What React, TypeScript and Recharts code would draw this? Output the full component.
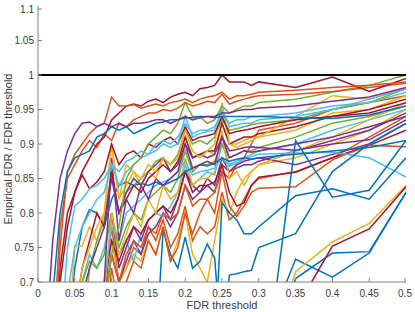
import React from 'react';
import { LineChart, Line, XAxis, YAxis, ReferenceLine } from 'recharts';

// FDR thresholds used for every curve
const thresholds = [
  0.01, 0.02, 0.03, 0.04, 0.05, 0.06, 0.07, 0.08, 0.09, 0.1,
  0.11, 0.12, 0.13, 0.14, 0.15, 0.16, 0.17, 0.18, 0.19, 0.2,
  0.21, 0.22, 0.23, 0.24, 0.25, 0.26, 0.27, 0.28, 0.29, 0.3,
  0.35, 0.4, 0.45, 0.5,
];

const xTicks = [0, 0.05, 0.1, 0.15, 0.2, 0.25, 0.3, 0.35, 0.4, 0.45, 0.5];
const yTicks = [0.7, 0.75, 0.8, 0.85, 0.9, 0.95, 1, 1.05, 1.1];

// empirical FDR / threshold, one array per run (values below 0.7 fall off the plot)
const purpleA = [
  0.6, 0.76, 0.85, 0.89, 0.915, 0.93, 0.932, 0.925, 0.93, 0.925,
  0.93, 0.925, 0.93, 0.93, 0.932, 0.935, 0.935, 0.93, 0.935, 0.94,
  0.935, 0.938, 0.94, 0.94, 0.945, 0.945, 0.948, 0.95, 0.95, 0.952,
  0.955, 0.962, 0.968, 0.982,
];
const blueA = [
  0.5, 0.68, 0.8, 0.86, 0.88, 0.885, 0.89, 0.91, 0.915, 0.925,
  0.92, 0.925, 0.915, 0.92, 0.925, 0.93, 0.932, 0.935, 0.935, 0.938,
  0.938, 0.94, 0.94, 0.938, 0.94, 0.94, 0.94, 0.94, 0.94, 0.94,
  0.938, 0.937, 0.942, 0.955,
];
const orangeA = [
  0.45, 0.55, 0.75, 0.86, 0.885, 0.9, 0.915, 0.925, 0.93, 0.968,
  0.955, 0.955, 0.957, 0.952, 0.955, 0.958, 0.955, 0.96, 0.962, 0.965,
  0.96, 0.965, 0.968, 0.97, 0.975, 0.965, 0.97, 0.97, 0.972, 0.975,
  0.978, 0.982, 0.985, 0.99,
];
const orangeB = [
  0.5, 0.6, 0.78, 0.85, 0.87, 0.89, 0.905, 0.895, 0.915, 0.905,
  0.93, 0.925, 0.935, 0.94, 0.945, 0.945, 0.95, 0.948, 0.952, 0.96,
  0.955, 0.958, 0.962, 0.96, 0.972, 0.958, 0.962, 0.965, 0.968, 0.97,
  0.972, 0.976, 0.982, 0.988,
];
const darkRedA = [
  0.45, 0.5, 0.7, 0.78, 0.83, 0.86, 0.88, 0.9, 0.91, 0.935,
  0.945, 0.955, 0.958, 0.955, 0.962, 0.965, 0.96, 0.968, 0.972, 0.975,
  0.97, 0.98, 0.982, 0.985, 1.0, 0.99, 0.99, 0.99, 0.985, 0.99,
  0.982, 0.997, 0.976, 0.995,
];
const darkRedB = [
  0.4, 0.55, 0.72, 0.8, 0.83, 0.855, 0.835, 0.845, 0.86, 0.9,
  0.87, 0.885, 0.89, 0.88, 0.9, 0.895, 0.905, 0.91, 0.9, 0.925,
  0.905, 0.91, 0.912, 0.915, 0.94, 0.915, 0.918, 0.92, 0.922, 0.925,
  0.935, 0.94, 0.945, 0.96,
];
const lightBlueA = [
  0.4, 0.45, 0.6, 0.75, 0.81, 0.82, 0.835, 0.84, 0.85, 0.87,
  0.86, 0.875, 0.88, 0.89, 0.885, 0.9, 0.905, 0.9, 0.91, 0.93,
  0.915, 0.92, 0.92, 0.925, 0.945, 0.93, 0.935, 0.935, 0.94, 0.94,
  0.945, 0.955, 0.96, 0.975,
];
const greenA = [
  0.3, 0.3, 0.35, 0.4, 0.45, 0.5, 0.55, 0.6, 0.66, 0.74,
  0.78, 0.85, 0.87, 0.88, 0.9, 0.91, 0.92, 0.915, 0.93, 0.96,
  0.94, 0.94, 0.93, 0.935, 0.955, 0.945, 0.95, 0.955, 0.955, 0.96,
  0.965, 0.975, 0.985, 1.0,
];
const lightBlueB = [
  0.3, 0.35, 0.4, 0.45, 0.5, 0.55, 0.6, 0.65, 0.7, 0.78,
  0.76, 0.8, 0.81, 0.82, 0.83, 0.84, 0.845, 0.85, 0.86, 0.875,
  0.855, 0.86, 0.862, 0.865, 0.88, 0.868, 0.872, 0.878, 0.882, 0.885,
  0.887, 0.888, 0.88, 0.852,
];
const orangeC = [
  0.3, 0.35, 0.4, 0.45, 0.5, 0.55, 0.6, 0.62, 0.66, 0.74,
  0.7, 0.74, 0.76, 0.75, 0.78, 0.77, 0.8, 0.79, 0.8, 0.84,
  0.81, 0.82, 0.82, 0.83, 0.86, 0.81, 0.795, 0.81, 0.83, 0.836,
  0.838, 0.877, 0.898, 0.896,
];
const darkRedC = [
  0.3, 0.35, 0.4, 0.45, 0.5, 0.55, 0.6, 0.65, 0.7, 0.76,
  0.73, 0.76, 0.78, 0.77, 0.79, 0.8, 0.81, 0.8, 0.82, 0.86,
  0.83, 0.84, 0.84, 0.845, 0.87, 0.83, 0.81, 0.815, 0.84, 0.852,
  0.859, 0.88, 0.898, 0.92,
];
const purpleB = [
  0.3, 0.4, 0.5, 0.6, 0.65, 0.68, 0.72, 0.75, 0.78, 0.85,
  0.8, 0.83, 0.85, 0.84, 0.86, 0.87, 0.88, 0.86, 0.87, 0.9,
  0.88, 0.885, 0.88, 0.885, 0.91, 0.89, 0.892, 0.895, 0.896, 0.895,
  0.891, 0.9, 0.906, 0.935,
];
const yellowA = [
  0.3, 0.4, 0.5, 0.58, 0.65, 0.72, 0.75, 0.78, 0.8, 0.9,
  0.82, 0.84, 0.86, 0.85, 0.87, 0.86, 0.88, 0.87, 0.88, 0.92,
  0.89, 0.88, 0.89, 0.9, 0.96, 0.9, 0.895, 0.9, 0.905, 0.91,
  0.94, 0.97, 0.965, 0.98,
];
const yellowB = [
  0.3, 0.35, 0.4, 0.45, 0.5, 0.55, 0.6, 0.65, 0.68, 0.8,
  0.74, 0.77, 0.8, 0.78, 0.82, 0.8, 0.84, 0.82, 0.83, 0.88,
  0.84, 0.85, 0.85, 0.86, 0.92, 0.85, 0.86, 0.84, 0.86, 0.87,
  0.89, 0.91, 0.935, 0.96,
];
const blueB = [
  0.3, 0.35, 0.5, 0.62, 0.72, 0.78, 0.805, 0.8, 0.78, 0.82,
  0.84, 0.845, 0.84, 0.843, 0.84, 0.845, 0.84, 0.845, 0.85, 0.86,
  0.865, 0.87, 0.868, 0.872, 0.88, 0.875, 0.878, 0.88, 0.878, 0.88,
  0.885, 0.89, 0.895, 0.905,
];
const purpleC = [
  0.3, 0.35, 0.4, 0.45, 0.5, 0.55, 0.6, 0.65, 0.7, 0.88,
  0.76, 0.82, 0.8, 0.84, 0.82, 0.85, 0.84, 0.85, 0.86, 0.9,
  0.865, 0.87, 0.875, 0.87, 0.91, 0.88, 0.885, 0.89, 0.888, 0.89,
  0.9, 0.91, 0.925, 0.94,
];
const purpleD = [
  0.3, 0.35, 0.4, 0.45, 0.5, 0.55, 0.6, 0.62, 0.66, 0.8,
  0.72, 0.75, 0.78, 0.76, 0.79, 0.8, 0.81, 0.79, 0.82, 0.86,
  0.84, 0.83, 0.85, 0.84, 0.88, 0.86, 0.87, 0.875, 0.878, 0.88,
  0.87, 0.885, 0.9, 0.93,
];
const greenB = [
  0.3, 0.35, 0.4, 0.45, 0.5, 0.62, 0.72, 0.76, 0.79, 0.86,
  0.8, 0.83, 0.84, 0.85, 0.86, 0.875, 0.88, 0.87, 0.885, 0.92,
  0.9, 0.905, 0.9, 0.91, 0.935, 0.92, 0.922, 0.925, 0.928, 0.93,
  0.935, 0.95, 0.96, 0.98,
];
const greenC = [
  0.3, 0.35, 0.45, 0.55, 0.65, 0.7, 0.73, 0.72, 0.74, 0.8,
  0.75, 0.78, 0.8, 0.79, 0.82, 0.83, 0.84, 0.83, 0.85, 0.89,
  0.86, 0.87, 0.87, 0.875, 0.9, 0.88, 0.885, 0.89, 0.89, 0.895,
  0.91, 0.93, 0.94, 0.955,
];
const yellowC = [
  0.3, 0.35, 0.45, 0.6, 0.752, 0.752, 0.78, 0.76, 0.8, 0.9,
  0.82, 0.87, 0.86, 0.84, 0.86, 0.85, 0.88, 0.86, 0.87, 0.91,
  0.88, 0.885, 0.89, 0.885, 0.93, 0.9, 0.9, 0.905, 0.91, 0.91,
  0.92, 0.945, 0.95, 0.97,
];
const orangeD = [
  0.3, 0.35, 0.4, 0.45, 0.5, 0.55, 0.6, 0.65, 0.68, 0.78,
  0.7, 0.72, 0.75, 0.74, 0.78, 0.76, 0.79, 0.75, 0.77, 0.81,
  0.76, 0.78, 0.77, 0.78, 0.83, 0.79, 0.8, 0.82, 0.84, 0.85,
  0.86, 0.88, 0.91, 0.94,
];
const lightBlueC = [
  0.3, 0.35, 0.4, 0.5, 0.6, 0.7, 0.74, 0.72, 0.75, 0.8,
  0.74, 0.76, 0.73, 0.77, 0.79, 0.8, 0.795, 0.81, 0.83, 0.87,
  0.84, 0.85, 0.86, 0.855, 0.9, 0.87, 0.875, 0.88, 0.885, 0.89,
  0.9, 0.92, 0.935, 0.95,
];
const darkRedD = [
  0.3, 0.35, 0.45, 0.55, 0.65, 0.72, 0.76, 0.8, 0.78, 0.86,
  0.8, 0.82, 0.84, 0.83, 0.85, 0.86, 0.87, 0.86, 0.875, 0.91,
  0.88, 0.885, 0.89, 0.89, 0.93, 0.9, 0.905, 0.91, 0.91, 0.915,
  0.925, 0.94, 0.95, 0.965,
];
const orangeE = [
  0.3, 0.35, 0.4, 0.45, 0.5, 0.52, 0.55, 0.6, 0.62, 0.72,
  0.66, 0.7, 0.73, 0.72, 0.76, 0.74, 0.78, 0.73, 0.75, 0.8,
  0.77, 0.8, 0.82, 0.8, 0.86, 0.85, 0.87, 0.88, 0.9, 0.92,
  0.93, 0.95, 0.96, 0.97,
];
const yellowD = [
  0.3, 0.35, 0.4, 0.45, 0.5, 0.55, 0.6, 0.62, 0.65, 0.76,
  0.7, 0.72, 0.74, 0.73, 0.76, 0.74, 0.78, 0.73, 0.76, 0.8,
  0.74, 0.72, 0.7, 0.76, 0.82, 0.8, 0.83, 0.85, 0.86, 0.87,
  0.88, 0.9, 0.92, 0.95,
];
const purpleE = [
  0.3, 0.35, 0.4, 0.45, 0.5, 0.55, 0.6, 0.63, 0.66, 0.74,
  0.7, 0.73, 0.76, 0.74, 0.77, 0.78, 0.8, 0.78, 0.8, 0.84,
  0.82, 0.83, 0.84, 0.83, 0.87, 0.86, 0.865, 0.87, 0.87, 0.875,
  0.89, 0.905, 0.92, 0.945,
];
const lightBlueD = [
  0.3, 0.4, 0.55, 0.68, 0.75, 0.78, 0.8, 0.82, 0.83, 0.87,
  0.84, 0.86, 0.87, 0.88, 0.885, 0.89, 0.9, 0.895, 0.9, 0.94,
  0.91, 0.915, 0.918, 0.92, 0.95, 0.925, 0.928, 0.93, 0.93, 0.935,
  0.94, 0.95, 0.965, 0.98,
];
const blueC = [
  0.3, 0.3, 0.3, 0.3, 0.3, 0.3, 0.3, 0.3, 0.3, 0.3,
  0.3, 0.3, 0.3, 0.3, 0.3, 0.6, 0.775, 0.74, 0.72, 0.765,
  0.72, 0.73, 0.755, 0.735, 0.6, 0.5, 0.5, 0.5, 0.5, 0.5,
  0.4, 0.4, 0.4, 0.4,
];
const blueD = [
  0.3, 0.3, 0.3, 0.3, 0.3, 0.3, 0.3, 0.3, 0.3, 0.3,
  0.3, 0.3, 0.3, 0.3, 0.3, 0.3, 0.3, 0.3, 0.3, 0.3,
  0.3, 0.3, 0.3, 0.6, 0.815, 0.8, 0.79, 0.77, 0.77, 0.78,
  0.825, 0.835, 0.82, 0.88,
];
const blueE = [
  0.3, 0.3, 0.3, 0.3, 0.3, 0.3, 0.3, 0.3, 0.3, 0.3,
  0.3, 0.3, 0.3, 0.3, 0.3, 0.3, 0.3, 0.3, 0.3, 0.3,
  0.3, 0.3, 0.3, 0.3, 0.6, 0.71, 0.712, 0.715, 0.717, 0.75,
  0.77, 0.86, 0.9, 0.93,
];
const blueF = [
  0.3, 0.3, 0.3, 0.3, 0.3, 0.3, 0.3, 0.3, 0.3, 0.3,
  0.3, 0.3, 0.3, 0.3, 0.3, 0.3, 0.3, 0.3, 0.3, 0.3,
  0.3, 0.3, 0.3, 0.3, 0.3, 0.3, 0.3, 0.3, 0.3, 0.5,
  0.905, 0.823, 0.833, 0.905,
];
const blueG = [
  0.3, 0.3, 0.3, 0.3, 0.3, 0.3, 0.3, 0.3, 0.3, 0.3,
  0.3, 0.3, 0.3, 0.3, 0.3, 0.3, 0.3, 0.3, 0.3, 0.3,
  0.3, 0.3, 0.3, 0.3, 0.3, 0.3, 0.3, 0.3, 0.3, 0.6,
  0.733, 0.707, 0.742, 0.83,
];
const blueH = [
  0.3, 0.3, 0.3, 0.3, 0.3, 0.3, 0.3, 0.3, 0.3, 0.3,
  0.3, 0.3, 0.3, 0.3, 0.3, 0.3, 0.3, 0.3, 0.3, 0.3,
  0.3, 0.3, 0.3, 0.3, 0.3, 0.3, 0.3, 0.3, 0.3, 0.55,
  0.705, 0.742, 0.744, 0.83,
];
const yellowE = [
  0.3, 0.3, 0.3, 0.3, 0.3, 0.3, 0.3, 0.3, 0.3, 0.3,
  0.3, 0.3, 0.3, 0.3, 0.3, 0.3, 0.3, 0.3, 0.3, 0.3,
  0.3, 0.3, 0.3, 0.3, 0.3, 0.3, 0.3, 0.3, 0.3, 0.55,
  0.715, 0.758, 0.785, 0.84,
];
const darkRedE = [
  0.3, 0.3, 0.3, 0.3, 0.3, 0.3, 0.3, 0.3, 0.3, 0.3,
  0.3, 0.3, 0.3, 0.3, 0.3, 0.3, 0.3, 0.3, 0.3, 0.3,
  0.3, 0.3, 0.3, 0.3, 0.3, 0.3, 0.3, 0.3, 0.3, 0.45,
  0.66, 0.752, 0.777, 0.838,
];

const BLUE = '#0072BD';
const ORANGE = '#D95319';
const YELLOW = '#EDB120';
const PURPLE = '#7E2F8E';
const GREEN = '#77AC30';
const LIGHTBLUE = '#4DBEEE';
const DARKRED = '#A2142F';

const runs = [
  { key: 'r1', color: ORANGE, values: orangeD },
  { key: 'r2', color: YELLOW, values: yellowD },
  { key: 'r3', color: PURPLE, values: purpleE },
  { key: 'r4', color: LIGHTBLUE, values: lightBlueC },
  { key: 'r5', color: BLUE, values: blueC },
  { key: 'r6', color: ORANGE, values: orangeE },
  { key: 'r7', color: GREEN, values: greenC },
  { key: 'r8', color: PURPLE, values: purpleD },
  { key: 'r9', color: DARKRED, values: darkRedC },
  { key: 'r10', color: ORANGE, values: orangeC },
  { key: 'r11', color: YELLOW, values: yellowB },
  { key: 'r12', color: LIGHTBLUE, values: lightBlueB },
  { key: 'r13', color: BLUE, values: blueB },
  { key: 'r14', color: PURPLE, values: purpleC },
  { key: 'r15', color: YELLOW, values: yellowC },
  { key: 'r16', color: GREEN, values: greenB },
  { key: 'r17', color: DARKRED, values: darkRedD },
  { key: 'r18', color: PURPLE, values: purpleB },
  { key: 'r19', color: YELLOW, values: yellowA },
  { key: 'r20', color: DARKRED, values: darkRedB },
  { key: 'r21', color: LIGHTBLUE, values: lightBlueA },
  { key: 'r22', color: LIGHTBLUE, values: lightBlueD },
  { key: 'r23', color: GREEN, values: greenA },
  { key: 'r24', color: ORANGE, values: orangeB },
  { key: 'r25', color: DARKRED, values: darkRedA },
  { key: 'r26', color: ORANGE, values: orangeA },
  { key: 'r27', color: BLUE, values: blueA },
  { key: 'r28', color: PURPLE, values: purpleA },
  { key: 'r29', color: BLUE, values: blueD },
  { key: 'r30', color: BLUE, values: blueE },
  { key: 'r31', color: BLUE, values: blueF },
  { key: 'r32', color: BLUE, values: blueG },
  { key: 'r33', color: BLUE, values: blueH },
  { key: 'r34', color: YELLOW, values: yellowE },
  { key: 'r35', color: DARKRED, values: darkRedE },
];

const rows = thresholds.map((x, i) => {
  const row: Record<string, number> = { x };
  runs.forEach((r) => {
    row[r.key] = r.values[i];
  });
  return row;
});

const AXIS = '#808080';
const TEXT = '#3a3a3a';
const FONT = '"Liberation Sans", Arial, sans-serif';

const fmt = (v: number) => String(Number(v.toFixed(2)));

function XTick(props: any) {
  const { x, y, payload } = props;
  const axisY = y - 8;
  return (
    <g>
      <line x1={x} x2={x} y1={axisY} y2={axisY - 4} stroke={AXIS} />
      <text x={x} y={y} dy="0.71em" textAnchor="middle" fill={TEXT} fontSize={10} fontFamily={FONT}>
        {fmt(payload.value)}
      </text>
    </g>
  );
}

function YTick(props: any) {
  const { x, y, payload } = props;
  const axisX = x + 4;
  return (
    <g>
      <line x1={axisX} x2={axisX + 4} y1={y} y2={y} stroke={AXIS} />
      <text x={x} y={y} dy="0.355em" textAnchor="end" fill={TEXT} fontSize={10} fontFamily={FONT}>
        {fmt(payload.value)}
      </text>
    </g>
  );
}

export default function App() {
  return (
    <div style={{ position: 'absolute', left: 0, top: 0, width: 415, height: 312, background: '#fff' }}>
      <LineChart width={415} height={312} data={rows} margin={{ top: 6, right: 9, bottom: 0, left: 0 }}>
        <XAxis
          type="number"
          dataKey="x"
          domain={[0, 0.5]}
          ticks={xTicks}
          allowDataOverflow
          height={30}
          tickSize={0}
          tickMargin={8}
          tick={<XTick />}
          axisLine={{ stroke: AXIS }}
        />
        <YAxis
          type="number"
          domain={[0.7, 1.1]}
          ticks={yTicks}
          allowDataOverflow
          width={38}
          tickSize={0}
          tickMargin={4}
          tick={<YTick />}
          axisLine={{ stroke: AXIS }}
        />
        {runs.map((r) => (
          <Line
            key={r.key}
            type="linear"
            dataKey={r.key}
            stroke={r.color}
            strokeWidth={1.5}
            dot={false}
            activeDot={false}
            isAnimationActive={false}
          />
        ))}
        <ReferenceLine y={1} stroke="#000" strokeWidth={2} />
      </LineChart>
      <div
        style={{
          position: 'absolute',
          left: 222,
          top: 305,
          transform: 'translate(-50%, -50%)',
          fontFamily: FONT,
          fontSize: 11,
          color: TEXT,
          whiteSpace: 'nowrap',
        }}
      >
        FDR threshold
      </div>
      <div
        style={{
          position: 'absolute',
          left: 8,
          top: 149,
          transform: 'translate(-50%, -50%) rotate(-90deg)',
          fontFamily: FONT,
          fontSize: 11,
          color: TEXT,
          whiteSpace: 'nowrap',
        }}
      >
        Empirical FDR / FDR threshold
      </div>
    </div>
  );
}
